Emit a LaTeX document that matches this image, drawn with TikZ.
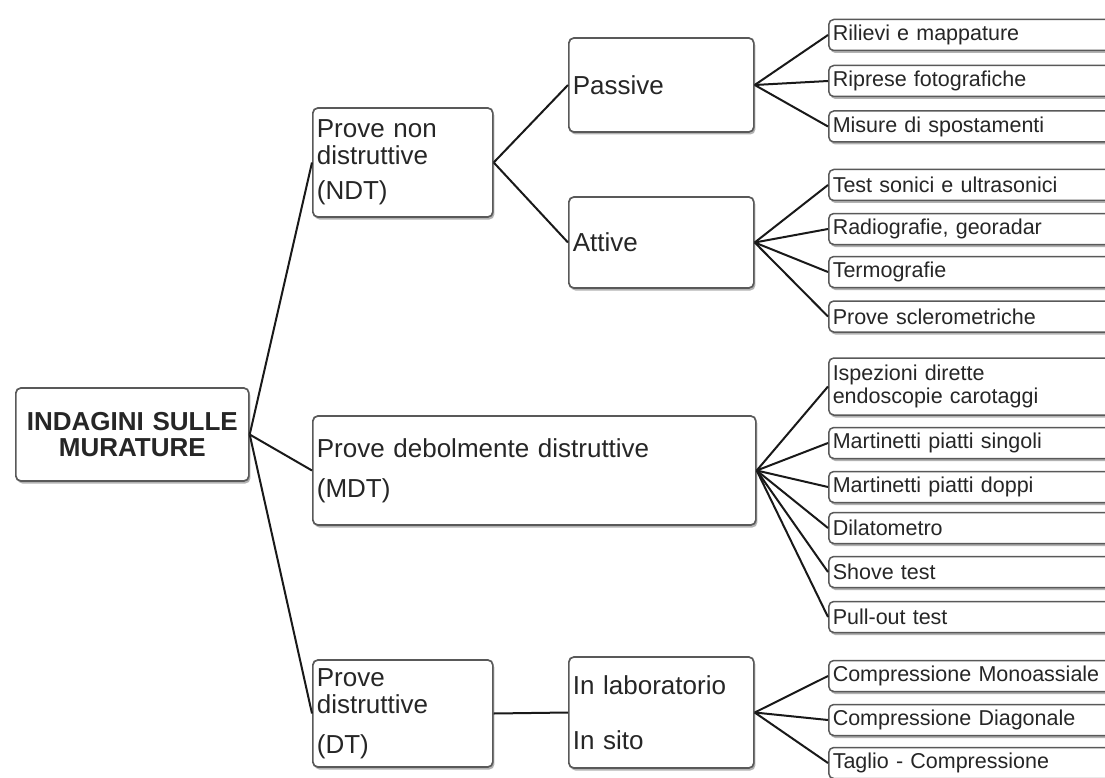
\documentclass[tikz,border=0pt]{standalone}
\usepackage{fontspec}
\setmainfont{Liberation Sans}
\usetikzlibrary{positioning, shadows}

\begin{document}
\begin{tikzpicture}[
    x=1pt, y=-1pt,
    every node/.style={font=\fontsize{26}{27}\selectfont, text=black!85},
    box/.style={rectangle, rounded corners=5pt, draw=black!65, fill=white, line width=1.7pt,
        drop shadow={shadow xshift=1.5pt, shadow yshift=-2.5pt, fill=black, opacity=.3},
        anchor=west, align=left, inner xsep=4pt, inner ysep=0pt},
    root/.style={box, align=center, font=\fontsize{26}{26}\selectfont\bfseries, text width=225pt, minimum height=93pt},
    main/.style={box, minimum height=109pt},
    sub/.style={box, text width=177pt, minimum height=93pt},
    leaf/.style={box, font=\fontsize{21.5}{23}\selectfont, text width=292pt, minimum height=31pt, line width=1.5pt},
    link/.style={line width=2pt, black!90}
]
\useasboundingbox (0,0) rectangle (1105,778);
\clip (0,0) rectangle (1105,778);

% --- Radice
\node[root] (indagini) at (15,434.5) {INDAGINI SULLE\\MURATURE};

% --- Livello 1
\node[main, text width=172pt] (ndt) at (312,162.5) {Prove non\\distruttive\\[8pt](NDT)};
\node[main, text width=435pt] (mdt) at (312,470.5) {Prove debolmente distruttive\\[13pt](MDT)};
\node[main, text width=172pt, minimum height=107pt] (dt) at (312,713.5) {Prove\\distruttive\\[13pt](DT)};

% --- Livello 2
\node[sub, minimum height=94pt] (passive) at (568,85) {Passive};
\node[sub, minimum height=91pt] (attive) at (568,242.5) {Attive};
\node[sub, minimum height=111pt] (prove_dt) at (568,712.5) {In laboratorio\\[28pt]In sito};

% --- Foglie NDT
\node[leaf] (rilievi) at (828,35) {Rilievi e mappature};
\node[leaf] (riprese) at (828,81) {Riprese fotografiche};
\node[leaf] (misure) at (828,126.5) {Misure di spostamenti};
\node[leaf] (sonici) at (828,185) {Test sonici e ultrasonici};
\node[leaf] (radio) at (828,229) {Radiografie, georadar};
\node[leaf] (termo) at (828,272) {Termografie};
\node[leaf] (sclero) at (828,316.5) {Prove sclerometriche};

% --- Foglie MDT
\node[leaf, minimum height=57pt] (ispezioni) at (828,386.5) {Ispezioni dirette\\endoscopie carotaggi};
\node[leaf] (singoli) at (828,443) {Martinetti piatti singoli};
\node[leaf] (doppi) at (828,487) {Martinetti piatti doppi};
\node[leaf] (dilato) at (828,528) {Dilatometro};
\node[leaf] (shove) at (828,572) {Shove test};
\node[leaf] (pullout) at (828,617) {Pull-out test};

% --- Foglie DT
\node[leaf] (mono) at (828,676) {Compressione Monoassiale};
\node[leaf] (diag) at (828,720) {Compressione Diagonale};
\node[leaf] (taglio) at (828,763) {Taglio - Compressione};

% --- Collegamenti
\draw[link] (indagini.east) -- (ndt.west);
\draw[link] (indagini.east) -- (mdt.west);
\draw[link] (indagini.east) -- (dt.west);

\draw[link] (ndt.east) -- (passive.west);
\draw[link] (ndt.east) -- (attive.west);
\draw[link] (dt.east) -- (prove_dt.west);

\draw[link] (passive.east) -- (rilievi.west);
\draw[link] (passive.east) -- (riprese.west);
\draw[link] (passive.east) -- (misure.west);

\draw[link] (attive.east) -- (sonici.west);
\draw[link] (attive.east) -- (radio.west);
\draw[link] (attive.east) -- (termo.west);
\draw[link] (attive.east) -- (sclero.west);

\draw[link] (mdt.east) -- (ispezioni.west);
\draw[link] (mdt.east) -- (singoli.west);
\draw[link] (mdt.east) -- (doppi.west);
\draw[link] (mdt.east) -- (dilato.west);
\draw[link] (mdt.east) -- (shove.west);
\draw[link] (mdt.east) -- (pullout.west);

\draw[link] (prove_dt.east) -- (mono.west);
\draw[link] (prove_dt.east) -- (diag.west);
\draw[link] (prove_dt.east) -- (taglio.west);

\end{tikzpicture}
\end{document}
